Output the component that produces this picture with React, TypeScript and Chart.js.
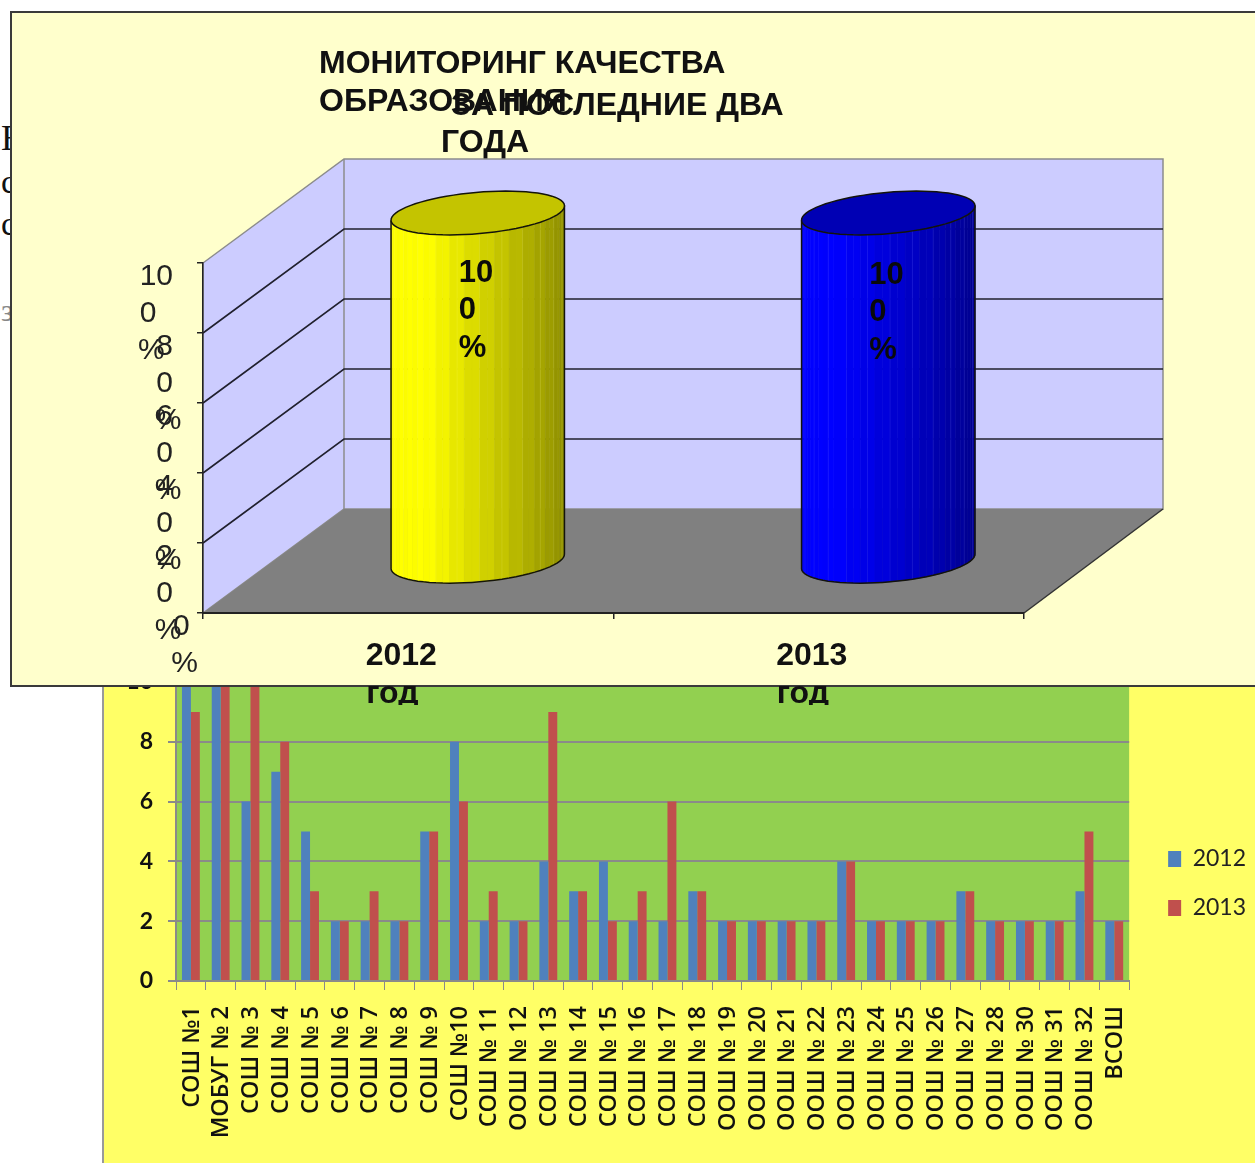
import React, { useEffect, useRef } from "react";
import { Chart, registerables } from "chart.js";

Chart.register(...registerables);

// ---- lower chart data ----
const schools = [
  "СОШ №1", "МОБУГ № 2", "СОШ № 3", "СОШ № 4", "СОШ № 5", "СОШ № 6", "СОШ № 7", "СОШ № 8",
  "СОШ № 9", "СОШ №10", "СОШ № 11", "ООШ № 12", "СОШ № 13", "СОШ № 14", "СОШ № 15", "СОШ № 16",
  "СОШ № 17", "СОШ № 18", "ООШ № 19", "ООШ № 20", "ООШ № 21", "ООШ № 22", "ООШ № 23", "ООШ № 24",
  "ООШ № 25", "ООШ № 26", "ООШ № 27", "ООШ № 28", "ООШ № 30", "ООШ № 31", "ООШ № 32", "ВСОШ",
];
const values2012 = [10, 10, 6, 7, 5, 2, 2, 2, 5, 8, 2, 2, 4, 3, 4, 2, 2, 3, 2, 2, 2, 2, 4, 2, 2, 2, 3, 2, 2, 2, 3, 2];
const values2013 = [9, 10, 10, 8, 3, 2, 3, 2, 5, 6, 3, 2, 9, 3, 2, 3, 6, 3, 2, 2, 2, 2, 4, 2, 2, 2, 3, 2, 2, 2, 5, 2];

// ---- upper chart data ----
const NB = "\u00A0";
const years = [["2012", "год" + NB + NB], ["2013", "год" + NB + NB]];
const quality = [100, 100];
const yTickLines = [
  ["0" + NB, "%", ""],
  ["2" + NB + NB + NB, "0" + NB + NB + NB, "%" + NB + NB],
  ["4" + NB + NB + NB, "0" + NB + NB + NB, "%" + NB + NB],
  ["6" + NB + NB + NB, "0" + NB + NB + NB, "%" + NB + NB],
  ["8" + NB + NB + NB, "0" + NB + NB + NB, "%" + NB + NB],
  ["10" + NB + NB + NB, "0" + NB.repeat(5), "%" + NB.repeat(4)],
];
const barLabelLines = ["10", "0", "%"];
const titleA = ["МОНИТОРИНГ КАЧЕСТВА", "ОБРАЗОВАНИЯ"];
const titleB = ["ЗА ПОСЛЕДНИЕ ДВА", "ГОДА"];
const cylinderColors = [[255, 255, 0], [0, 0, 255]];
const cylinderTops = ["#C4C400", "#0000B4"];

const SANS = '"Liberation Sans", Arial, sans-serif';
const DEPTH_X = 141;
const DEPTH_Y = -104;

const scene3d = {
  id: "scene3d",
  beforeDraw(chart: any) {
    const { ctx, chartArea: a, scales } = chart;
    ctx.save();
    // panel
    ctx.fillStyle = "#FFFFCC";
    ctx.fillRect(11, 12, chart.width - 11, 686 - 12);
    ctx.strokeStyle = "#3a3a3a";
    ctx.lineWidth = 2;
    ctx.strokeRect(11, 12, chart.width + 20, 686 - 12);
    // title
    ctx.fillStyle = "#111";
    ctx.font = `bold 32px ${SANS}`;
    ctx.textBaseline = "middle";
    ctx.textAlign = "left";
    titleA.forEach((t, i) => ctx.fillText(t, 319, 64 + i * 38));
    ctx.fillText(titleB[0], 451, 106);
    ctx.fillText(titleB[1], 441, 143);
    // walls
    const bx = a.left + DEPTH_X, br = a.right + DEPTH_X - 2;
    const top = a.top + DEPTH_Y, bot = a.bottom + DEPTH_Y;
    ctx.fillStyle = "#CCCCFF";
    ctx.beginPath();
    ctx.moveTo(a.left, a.top);
    ctx.lineTo(bx, top);
    ctx.lineTo(br, top);
    ctx.lineTo(br, bot);
    ctx.lineTo(bx, bot);
    ctx.lineTo(a.left, a.bottom);
    ctx.closePath();
    ctx.fill();
    ctx.strokeStyle = "#8c8c8c";
    ctx.lineWidth = 1.5;
    ctx.stroke();
    ctx.beginPath();
    ctx.moveTo(bx, top);
    ctx.lineTo(bx, bot);
    ctx.stroke();
    // floor
    ctx.fillStyle = "#808080";
    ctx.beginPath();
    ctx.moveTo(a.left, a.bottom);
    ctx.lineTo(bx, bot);
    ctx.lineTo(br, bot);
    ctx.lineTo(a.right, a.bottom);
    ctx.closePath();
    ctx.fill();
    ctx.strokeStyle = "#333";
    ctx.beginPath();
    ctx.moveTo(a.right, a.bottom);
    ctx.lineTo(br, bot);
    ctx.stroke();
    // grid lines wrapping side + back walls
    ctx.strokeStyle = "#20202e";
    ctx.lineWidth = 1.6;
    scales.y.ticks.forEach((t: any) => {
      if (t.value === 0 || t.value === 100) return;
      const py = scales.y.getPixelForValue(t.value);
      ctx.beginPath();
      ctx.moveTo(a.left, py);
      ctx.lineTo(bx, py + DEPTH_Y);
      ctx.lineTo(br, py + DEPTH_Y);
      ctx.stroke();
    });
    ctx.restore();
  },
  afterDatasetsDraw(chart: any) {
    const { ctx } = chart;
    const meta = chart.getDatasetMeta(0);
    meta.data.forEach((bar: any, i: number) => {
      drawCylinder(ctx, bar.x + DEPTH_X / 2 - 1, bar.y + DEPTH_Y / 2 + 2, bar.base + DEPTH_Y / 2 + 1, bar.width / 2, cylinderColors[i], cylinderTops[i]);
      ctx.save();
      ctx.fillStyle = "#0a0a0a";
      ctx.font = `bold 31px ${SANS}`;
      ctx.textAlign = "left";
      ctx.textBaseline = "middle";
      barLabelLines.forEach((t, k) => ctx.fillText(t, bar.x + DEPTH_X / 2 - 20, bar.y + 10 + i * 2 + k * 37.5));
      ctx.restore();
    });
  },
};

function drawCylinder(ctx: any, cx: number, yTop: number, yBot: number, a: number, rgb: number[], topColor: string) {
  const b = a * 0.237;
  const th = (-5 * Math.PI) / 180;
  const pt = (phi: number, cy: number) => [
    cx + a * Math.cos(phi) * Math.cos(th) - b * Math.sin(phi) * Math.sin(th),
    cy + a * Math.cos(phi) * Math.sin(th) + b * Math.sin(phi) * Math.cos(th),
  ];
  const N = 36;
  ctx.save();
  for (let i = 0; i < N; i++) {
    const p0 = Math.PI - (i / N) * Math.PI;
    const p1 = Math.PI - ((i + 1) / N) * Math.PI;
    const A = pt(p0, yTop), B = pt(p1, yTop), C = pt(p1, yBot), D = pt(p0, yBot);
    const t = ((A[0] + B[0]) / 2 - (cx - a)) / (2 * a);
    const s = Math.min(1, 1.08 - 0.52 * Math.pow(t, 1.15)) + (i % 2 ? 0.012 : -0.012);
    const col = `rgb(${rgb.map((v) => Math.round(Math.min(255, v * s))).join(",")})`;
    ctx.fillStyle = col;
    ctx.strokeStyle = col;
    ctx.lineWidth = 0.6;
    ctx.beginPath();
    ctx.moveTo(A[0], A[1]);
    ctx.lineTo(B[0], B[1]);
    ctx.lineTo(C[0], C[1]);
    ctx.lineTo(D[0], D[1]);
    ctx.closePath();
    ctx.fill();
    ctx.stroke();
    if (i > 1 && i < N - 1 && i % 3 === 0) {
      ctx.strokeStyle = `rgba(${rgb.map((v) => Math.min(255, v + 90)).join(",")},0.3)`;
      ctx.beginPath();
      ctx.moveTo(A[0], A[1]);
      ctx.lineTo(D[0], D[1]);
      ctx.stroke();
    }
  }
  // outline of body
  ctx.strokeStyle = "#14140a";
  ctx.lineWidth = 1.5;
  ctx.beginPath();
  const s0 = pt(Math.PI, yTop);
  ctx.moveTo(s0[0], s0[1]);
  for (let i = 0; i <= N; i++) {
    const p = pt(Math.PI - (i / N) * Math.PI, yBot);
    ctx.lineTo(p[0], p[1]);
  }
  const e0 = pt(0, yTop);
  ctx.lineTo(e0[0], e0[1]);
  ctx.stroke();
  // top cap
  ctx.fillStyle = topColor;
  ctx.beginPath();
  for (let i = 0; i <= 2 * N; i++) {
    const p = pt((i / N) * Math.PI, yTop);
    if (i === 0) ctx.moveTo(p[0], p[1]);
    else ctx.lineTo(p[0], p[1]);
  }
  ctx.closePath();
  ctx.fill();
  ctx.stroke();
  ctx.restore();
}

const LEGEND_SHIFT_X = 13;
const LEGEND_SHIFT_Y = -39;

const lowerBackdrop = {
  id: "lowerBackdrop",
  afterLayout(chart: any) {
    const l = chart.legend;
    l.left += LEGEND_SHIFT_X;
    l.right += LEGEND_SHIFT_X;
    l.top += LEGEND_SHIFT_Y;
    l.bottom += LEGEND_SHIFT_Y;
  },
  beforeDraw(chart: any) {
    const { ctx, chartArea: a } = chart;
    ctx.save();
    ctx.fillStyle = "#FFFF66";
    ctx.fillRect(0, 0, chart.width, chart.height);
    ctx.fillStyle = "#999999";
    ctx.fillRect(0, 0, 2, chart.height);
    ctx.fillStyle = "#92D050";
    ctx.fillRect(a.left, a.top, a.right - a.left, a.bottom - a.top);
    ctx.restore();
  },
};

const leftFragments = [
  { t: "В", y: 119, s: 36, c: "#111" },
  { t: "с", y: 163, s: 34, c: "#111" },
  { t: "с", y: 205, s: 34, c: "#111" },
  { t: "з", y: 293, s: 32, c: "#888" },
];

export default function App() {
  const lowerRef = useRef<HTMLCanvasElement>(null);
  const upperRef = useRef<HTMLCanvasElement>(null);

  useEffect(() => {
    const lower = new Chart(lowerRef.current as any, {
      type: "bar",
      data: {
        labels: schools,
        datasets: [
          { label: "2012", data: values2012, backgroundColor: "#4F81BD", categoryPercentage: 0.6, barPercentage: 1 },
          { label: "2013", data: values2013, backgroundColor: "#C0504D", categoryPercentage: 0.6, barPercentage: 1 },
        ],
      },
      options: {
        responsive: false,
        animation: false,
        layout: { padding: { top: 42, bottom: 0, left: 0, right: 12 } },
        plugins: {
          title: { display: false },
          tooltip: { enabled: false },
          legend: {
            position: "right",
            labels: {
              boxWidth: 13,
              boxHeight: 16,
              padding: 26,
              color: "#222",
              font: { family: "Lato, sans-serif", size: 23 },
            },
          },
        },
        scales: {
          x: {
            afterFit: (s: any) => { s.height = 182; },
            grid: { drawOnChartArea: false, drawTicks: true, tickLength: 9, color: "#8a8a8a", offset: true },
            border: { color: "#8a8a8a", width: 2 },
            ticks: {
              autoSkip: false,
              minRotation: 90,
              maxRotation: 90,
              padding: 16,
              labelOffset: 1,
              color: "#111",
              font: { family: '"Open Sans", sans-serif', size: 23.5, weight: "600" },
            },
          },
          y: {
            min: 0,
            max: 10,
            afterFit: (s: any) => { s.width = 74; },
            grid: { color: "#8a8a8a", lineWidth: 2, tickLength: 8 },
            border: { color: "#8a8a8a", width: 2 },
            ticks: {
              stepSize: 2,
              padding: 15,
              color: "#111",
              font: { family: "Lato, sans-serif", size: 23, weight: "bold" },
            },
          },
        },
      },
      plugins: [lowerBackdrop],
    } as any);

    const upper = new Chart(upperRef.current as any, {
      type: "bar",
      data: {
        labels: years,
        datasets: [
          { label: "Качество", data: quality, backgroundColor: "rgba(0,0,0,0)", categoryPercentage: 1, barPercentage: 0.424 },
        ],
      },
      options: {
        responsive: false,
        animation: false,
        layout: { padding: { top: 263, bottom: 0, left: 0, right: 231 } },
        plugins: { legend: { display: false }, tooltip: { enabled: false }, title: { display: false } },
        scales: {
          x: {
            afterFit: (s: any) => { s.height = 92; },
            grid: { drawOnChartArea: false, drawTicks: true, tickLength: 6, color: "#222", offset: true, lineWidth: 1.5 },
            border: { color: "#222", width: 2 },
            ticks: {
              autoSkip: false,
              maxRotation: 0,
              padding: 18,
              labelOffset: -7,
              color: "#111",
              font: { family: SANS, size: 32, weight: "bold", lineHeight: 1.19 },
            },
          },
          y: {
            min: 0,
            max: 100,
            afterFit: (s: any) => { s.width = 203; },
            grid: { drawOnChartArea: false, drawTicks: true, tickLength: 6, color: "#222", lineWidth: 1.5 },
            border: { color: "#222", width: 1.5 },
            ticks: {
              stepSize: 20,
              autoSkip: false,
              padding: -1,
              labelOffset: 51,
              color: "#222",
              font: { family: SANS, size: 30, lineHeight: 1.233 },
              callback: (v: number) => yTickLines[v / 20],
            },
          },
        },
      },
      plugins: [scene3d],
    } as any);

    return () => {
      lower.destroy();
      upper.destroy();
    };
  }, []);

  return (
    <div style={{ position: "absolute", left: 0, top: 0, width: 1255, height: 1163, overflow: "hidden", background: "#fff" }}>
      {leftFragments.map((f, i) => (
        <span
          key={i}
          style={{ position: "absolute", left: 1, top: f.y, fontFamily: '"Liberation Serif", serif', fontSize: f.s, color: f.c, lineHeight: 1.1 }}
        >
          {f.t}
        </span>
      ))}
      <canvas ref={lowerRef} width={1153} height={523} style={{ position: "absolute", left: 102, top: 640, display: "block" }} />
      <canvas ref={upperRef} width={1255} height={705} style={{ position: "absolute", left: 0, top: 0, display: "block" }} />
    </div>
  );
}
